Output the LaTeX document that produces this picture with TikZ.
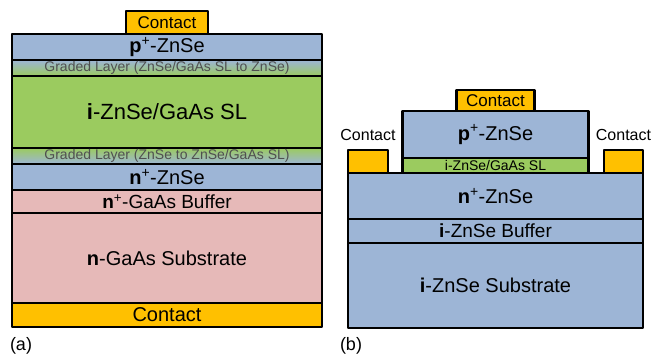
\documentclass[tikz,border=0pt]{standalone}
\usepackage{fontspec}
\setmainfont{Liberation Sans}
\usetikzlibrary{positioning}

\definecolor{layblue}{HTML}{9DB5D6}
\definecolor{laygreen}{HTML}{9BCB5F}
\definecolor{laypink}{HTML}{E6B9B8}
\definecolor{contorange}{HTML}{FFC000}
\definecolor{gradtext}{HTML}{505050}

\newcommand{\fs}[1]{\fontsize{#1}{#1}\selectfont}

\begin{document}
\begin{tikzpicture}[x=1pt, y=-1pt,
  layer/.style={draw, line width=2.4pt, line join=round, outer sep=0pt, inner sep=0pt,
                align=center, font=\fs{20}},
  contact/.style={layer, fill=contorange},
  graded/.style={layer, font=\fs{14}, text=gradtext},
  wa/.style={minimum width=310pt},
  wb/.style={minimum width=295pt},
  wmesa/.style={minimum width=186pt},
  lbl/.style={font=\fs{18}},
]
\useasboundingbox (0,0) rectangle (651,356);

% (a) vertical stack
\node[layer, wa, fill=layblue, minimum height=26pt] (apzn) at (167,47) {\textbf{p}\textsuperscript{+}-ZnSe};
\node[contact, minimum width=82pt, minimum height=23pt, font=\fs{17}, above=0pt of apzn] (acontop) {Contact};
\node[graded, wa, minimum height=16pt, top color=layblue, bottom color=laygreen, below=0pt of apzn] (agrad1) {Graded Layer (ZnSe/GaAs SL to ZnSe)};
\node[layer, wa, fill=laygreen, minimum height=72pt, font=\fs{22}, below=0pt of agrad1] (asl) {\textbf{i}-ZnSe/GaAs SL};
\node[graded, wa, minimum height=16pt, top color=laygreen, bottom color=layblue, below=0pt of asl] (agrad2) {Graded Layer (ZnSe to ZnSe/GaAs SL)};
\node[layer, wa, fill=layblue, minimum height=26pt, below=0pt of agrad2] (anzn) {\textbf{n}\textsuperscript{+}-ZnSe};
\node[layer, wa, fill=laypink, minimum height=23pt, font=\fs{19}, below=0pt of anzn] (abuf) {\textbf{n}\textsuperscript{+}-GaAs Buffer};
\node[layer, wa, fill=laypink, minimum height=90pt, below=0pt of abuf] (asub) {\textbf{n}-GaAs Substrate};
\node[contact, wa, minimum height=24pt, below=0pt of asub] (aconbot) {Contact};
\node[lbl] (labela) at (21,346) {(a)};

% (b) mesa structure
\node[layer, wb, fill=layblue, minimum height=46pt] (bnzn) at (495.5,196) {\textbf{n}\textsuperscript{+}-ZnSe};
\node[layer, wb, fill=layblue, minimum height=24pt, font=\fs{19}, below=0pt of bnzn] (bbuf) {\textbf{i}-ZnSe Buffer};
\node[layer, wb, fill=layblue, minimum height=85pt, below=0pt of bbuf] (bsub) {\textbf{i}-ZnSe Substrate};
\node[layer, wmesa, fill=laygreen, minimum height=15pt, font=\fs{14}, above=0pt of bnzn] (bsl) {i-ZnSe/GaAs SL};
\node[layer, wmesa, fill=layblue, minimum height=47pt, above=0pt of bsl] (bpzn) {\textbf{p}\textsuperscript{+}-ZnSe};
\node[contact, minimum width=78pt, minimum height=21pt, font=\fs{17}, above=0pt of bpzn] (bcontop) {Contact};
\node[contact, minimum width=40pt, minimum height=23pt, anchor=south west] (bconl) at (bnzn.north west) {};
\node[contact, minimum width=39pt, minimum height=23pt, anchor=south east] (bconr) at (bnzn.north east) {};
\node[font=\fs{16}, above=6pt of bconl] (bconltxt) {Contact};
\node[font=\fs{16}, above=6pt of bconr] (bconrtxt) {Contact};
\node[lbl] (labelb) at (351,346) {(b)};
\end{tikzpicture}
\end{document}
